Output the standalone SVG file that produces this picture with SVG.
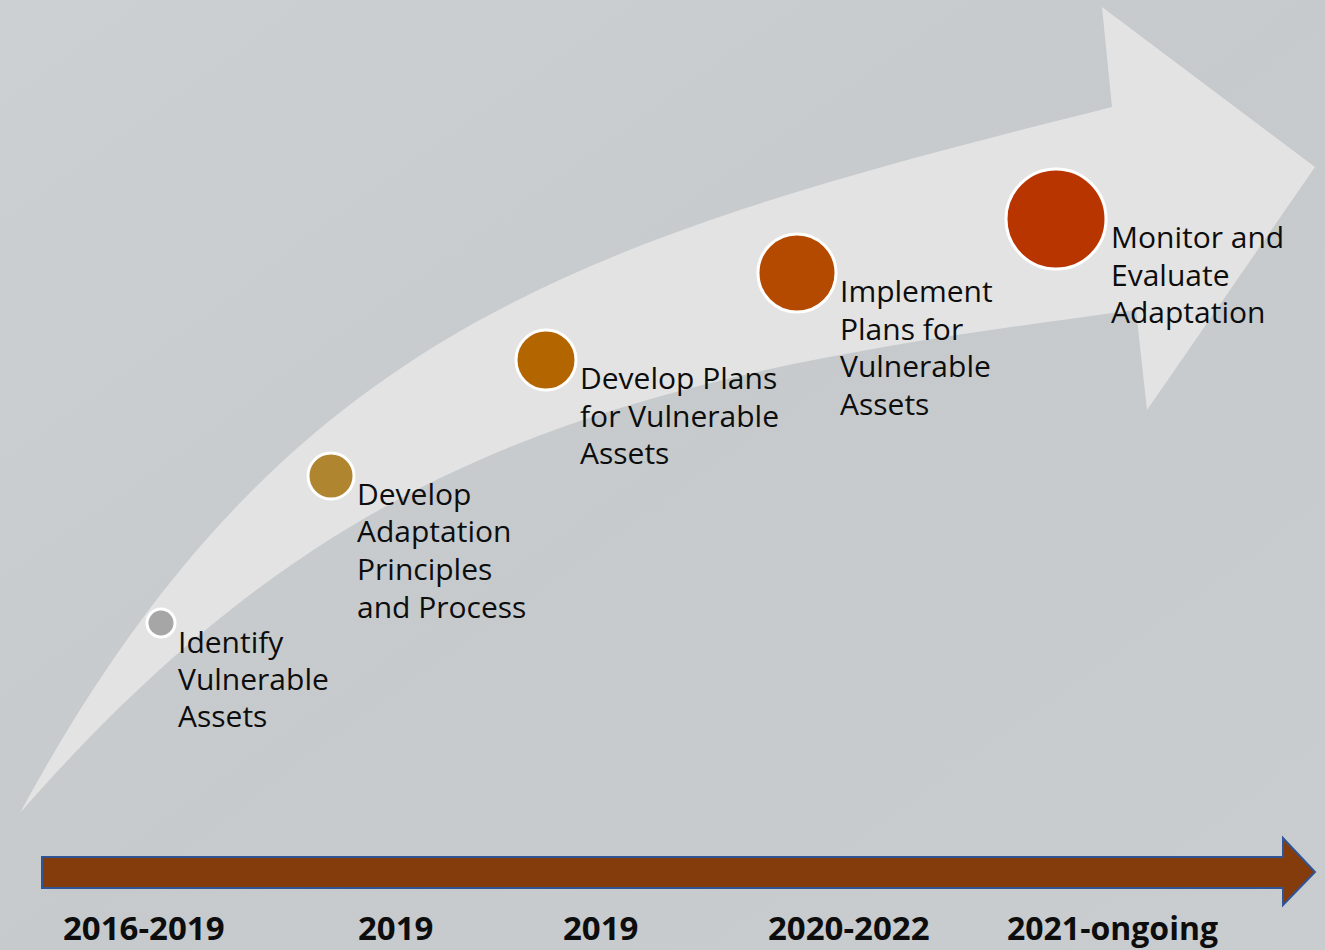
<svg xmlns="http://www.w3.org/2000/svg" width="1325" height="950" viewBox="0 0 1325 950">
<defs>
<linearGradient id="bg" x1="0" y1="0" x2="1" y2="1">
<stop offset="0" stop-color="#cdd0d2"/>
<stop offset="0.5" stop-color="#c6cacc"/>
<stop offset="1" stop-color="#c9cdcf"/>
</linearGradient>
<style>
.lbl{font-family:"Open Sans","Liberation Sans",sans-serif;font-size:30px;fill:#0d0d0d}
.yr{font-family:"Open Sans","Liberation Sans",sans-serif;font-size:33px;font-weight:bold;fill:#0d0d0d}
.dot{stroke:#ffffff;stroke-width:3}
</style>
</defs>
<rect width="1325" height="950" fill="url(#bg)"/>
<g id="connectors">
<path id="big-arrow" d="M20,813 C282,329.5 578.5,240.7 1112,107 L1102,7 L1315,167 L1147,410 L1136,310 C640.5,375 349,436.5 20,813 Z" fill="#e3e3e3"/>
<path id="timeline-arrow" d="M42,857 L1283,857 L1283,838 L1315,872 L1283,905 L1283,888 L42,888 Z" fill="#843c0c" stroke="#2f5597" stroke-width="2"/>
</g>
<g id="step1">
<circle class="dot" cx="161" cy="623" r="14" fill="#a6a6a6"/>
<text class="lbl"><tspan x="178" y="653">Identify</tspan><tspan x="178" y="690">Vulnerable</tspan><tspan x="178" y="727">Assets</tspan></text>
</g>
<g id="step2">
<circle class="dot" cx="331" cy="476" r="23" fill="#af8530"/>
<text class="lbl"><tspan x="357" y="505">Develop</tspan><tspan x="357" y="542">Adaptation</tspan><tspan x="357" y="580">Principles</tspan><tspan x="357" y="618">and Process</tspan></text>
</g>
<g id="step3">
<circle class="dot" cx="546" cy="360" r="30" fill="#b36600"/>
<text class="lbl"><tspan x="580" y="389">Develop Plans</tspan><tspan x="580" y="427">for Vulnerable</tspan><tspan x="580" y="464">Assets</tspan></text>
</g>
<g id="step4">
<circle class="dot" cx="797" cy="273" r="39" fill="#b34a00"/>
<text class="lbl"><tspan x="840" y="302">Implement</tspan><tspan x="840" y="340">Plans for</tspan><tspan x="840" y="377">Vulnerable</tspan><tspan x="840" y="415">Assets</tspan></text>
</g>
<g id="step5">
<circle class="dot" cx="1056" cy="219" r="50" fill="#b83500"/>
<text class="lbl"><tspan x="1111" y="248">Monitor and</tspan><tspan x="1111" y="286">Evaluate</tspan><tspan x="1111" y="323">Adaptation</tspan></text>
</g>
<g id="years">
<text class="yr" x="63" y="940">2016-2019</text>
<text class="yr" x="358" y="940">2019</text>
<text class="yr" x="563" y="940">2019</text>
<text class="yr" x="768" y="940">2020-2022</text>
<text class="yr" x="1007" y="940" textLength="211" lengthAdjust="spacingAndGlyphs">2021-ongoing</text>
</g>
</svg>
